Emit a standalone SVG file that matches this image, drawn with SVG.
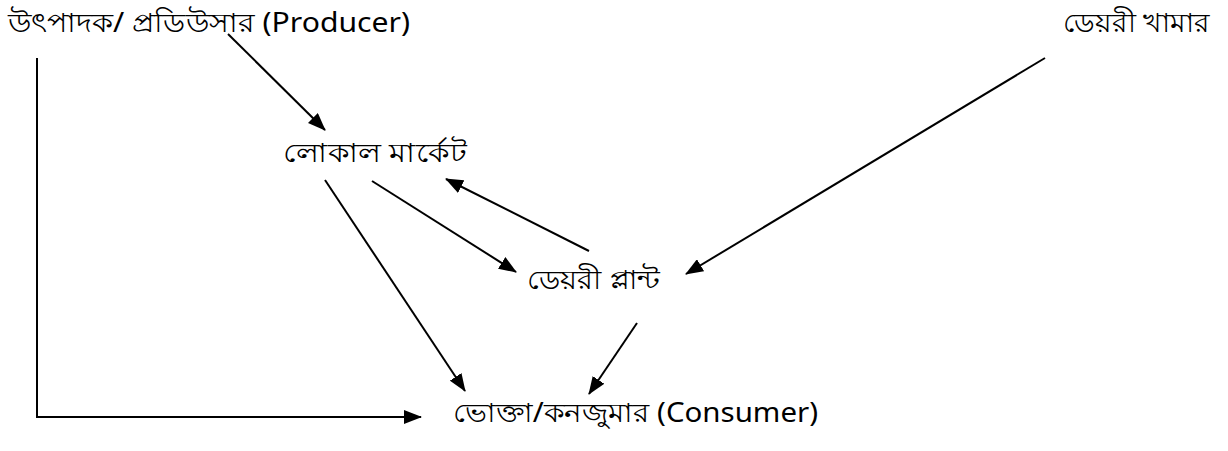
<svg xmlns="http://www.w3.org/2000/svg" width="1228" height="451" viewBox="0 0 1228 451">
<style>
text{font-family:"Noto Sans","DejaVu Sans",sans-serif;font-size:27px;fill:#000}
.c line,.c polyline{stroke:#000;stroke-width:2;fill:none}
</style>
<defs>
<marker id="ah" markerWidth="18" markerHeight="14" refX="17" refY="7" orient="auto" markerUnits="userSpaceOnUse">
<path d="M0,0 L18,7 L0,14 Z" fill="#000"/>
</marker>
</defs>
<rect width="1228" height="451" fill="#fff"/>
<g id="producer"><text x="8" y="32" textLength="402" lengthAdjust="spacingAndGlyphs">উৎপাদক/ প্রডিউসার (Producer)</text></g>
<g id="dairy-farm"><text x="1063" y="32" textLength="147" lengthAdjust="spacingAndGlyphs">ডেয়রী খামার</text></g>
<g id="local-market"><text x="283" y="162" textLength="184" lengthAdjust="spacingAndGlyphs">লোকাল মার্কেট</text></g>
<g id="dairy-plant"><text x="527" y="289" textLength="133" lengthAdjust="spacingAndGlyphs">ডেয়রী প্লান্ট</text></g>
<g id="consumer"><text x="453" y="422" textLength="365" lengthAdjust="spacingAndGlyphs">ভোক্তা/কনজুমার (Consumer)</text></g>
<g class="c" id="connectors">
<line x1="228" y1="34" x2="325" y2="130" marker-end="url(#ah)"/>
<polyline points="37,58 37,417 421,417" marker-end="url(#ah)"/>
<line x1="1045" y1="58" x2="686" y2="274" marker-end="url(#ah)"/>
<line x1="372" y1="181" x2="516" y2="272" marker-end="url(#ah)"/>
<line x1="589" y1="251" x2="446" y2="179" marker-end="url(#ah)"/>
<line x1="325" y1="180" x2="465" y2="391" marker-end="url(#ah)"/>
<line x1="637" y1="323" x2="589" y2="394" marker-end="url(#ah)"/>
</g>
</svg>
